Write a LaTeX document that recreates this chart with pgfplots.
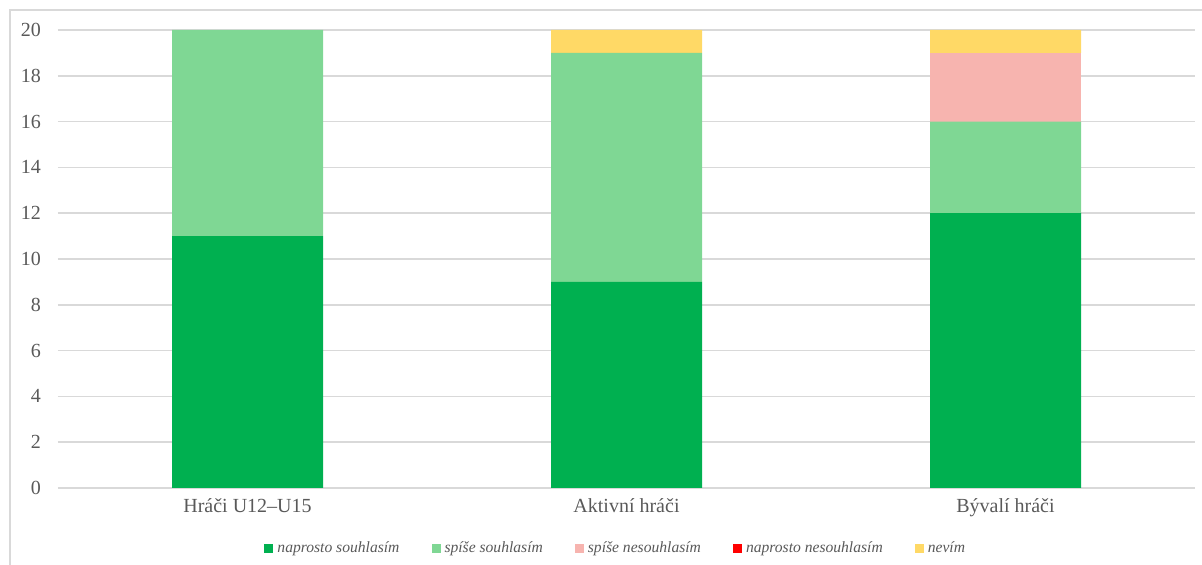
\documentclass[border=0pt]{standalone}
\usepackage{pgfplots}
\pgfplotsset{compat=1.18}
\usepackage{fontspec}
\setmainfont{Liberation Serif}
\definecolor{cA}{HTML}{00B050}
\definecolor{cB}{HTML}{7FD794}
\definecolor{cC}{HTML}{F7B4AF}
\definecolor{cD}{HTML}{FF0000}
\definecolor{cE}{HTML}{FFD966}
\definecolor{txt}{HTML}{595959}
\definecolor{grd}{HTML}{D9D9D9}
\begin{document}
\begin{tikzpicture}
\useasboundingbox (0,0) rectangle (601pt,282.5pt);
\draw[grd, line width=0.8pt] (5pt,0) -- (5pt,277.5pt) -- (601pt,277.5pt);
\begin{axis}[
  at={(29pt,38.5pt)}, anchor=south west,
  scale only axis, width=568.5pt, height=229pt,
  ybar stacked, bar width=75.5pt,
  xmin=-0.5, xmax=2.5, ymin=0, ymax=20,
  xtick={0,1,2}, xticklabels={Hráči U12–U15, Aktivní hráči, Bývalí hráči},
  ytick={0,2,...,20},
  axis line style={draw=none},
  major tick length=0pt,
  ymajorgrids, grid style={grd, line width=0.8pt},
  /pgf/number format/assume math mode=true,
  tick label style={font=\fontsize{10}{12}\selectfont, text=txt},
  yticklabel style={xshift=-5pt},
  xticklabel style={yshift=-2pt},
  legend columns=5,
  legend style={draw=none, fill=none, at={(0.48,0)}, anchor=center, yshift=-30.5pt, xshift=6.5pt,
    font=\fontsize{7.8}{9}\selectfont\itshape, text=txt,
    /tikz/every even column/.append style={column sep=14pt}},
  legend image code/.code={\fill[#1] (0pt,-2pt) rectangle (4.5pt,2.5pt);},
  every axis plot/.append style={draw=none},
]
\addplot[fill=cA] coordinates {(0,11) (1,9) (2,12)};
\addplot[fill=cB] coordinates {(0,9) (1,10) (2,4)};
\addplot[fill=cC] coordinates {(0,0) (1,0) (2,3)};
\addplot[fill=cD] coordinates {(0,0) (1,0) (2,0)};
\addplot[fill=cE] coordinates {(0,0) (1,1) (2,1)};
\legend{naprosto souhlasím, spíše souhlasím, spíše nesouhlasím, naprosto nesouhlasím, nevím}
\end{axis}
\end{tikzpicture}
\end{document}
